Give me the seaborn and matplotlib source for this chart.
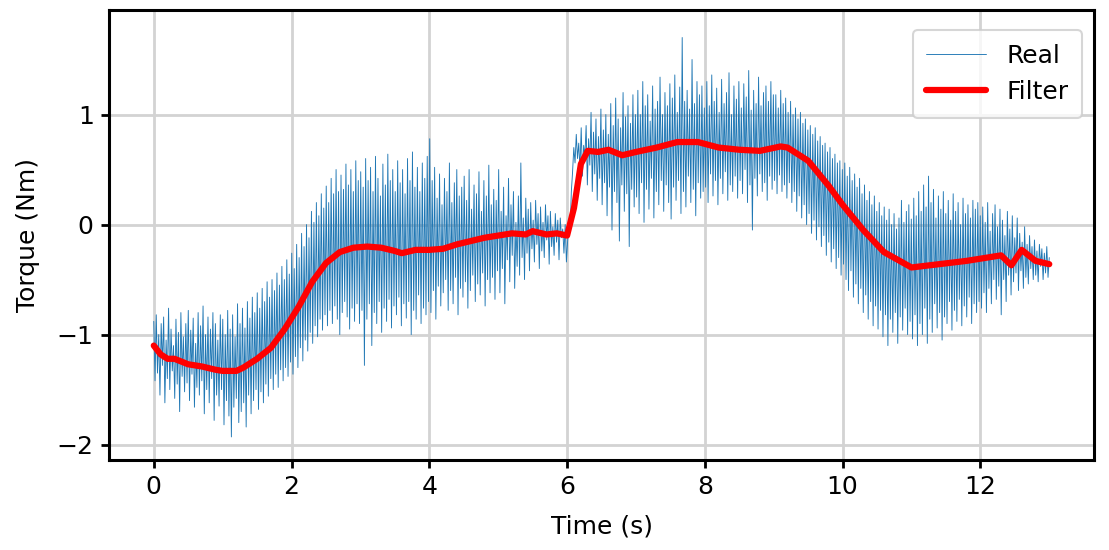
import numpy as np
import pandas as pd
import matplotlib
matplotlib.use("Agg")
import matplotlib.pyplot as plt
import seaborn as sns

# ---- data ----
real_torque = [
    # 0-1 s
    -0.88, -1.42, -0.82, -1.35, -1.0, -1.55, -0.9, -1.28, -0.84, -1.62, -1.05, -1.4, -0.76, -1.5,
    -0.95, -1.33, -1.1, -1.58, -0.86, -1.45, -0.98, -1.7, -0.8, -1.38, -1.02, -1.52, -0.9, -1.44,
    -0.78, -1.6, -0.96, -1.36, -0.85, -1.66, -1.08, -1.48, -0.8, -1.55, -0.92, -1.42, -0.74, -1.72,
    -1.0, -1.5, -0.84, -1.62, -0.95, -1.4, -0.8, -1.78, -0.9, -1.55, -1.05, -1.65, -0.82, -1.5,
    # 1-2 s
    -0.86, -1.82, -1.0, -1.6, -0.78, -1.74, -0.95, -1.93, -0.82, -1.66, -1.02, -1.58, -0.72, -1.8,
    -0.9, -1.7, -0.76, -1.62, -0.94, -1.84, -0.7, -1.55, -0.85, -1.72, -0.66, -1.6, -0.8, -1.5,
    -0.62, -1.68, -0.76, -1.52, -0.58, -1.62, -0.7, -1.45, -0.52, -1.56, -0.66, -1.4, -0.5, -1.5,
    -0.6, -1.36, -0.44, -1.48, -0.55, -1.32, -0.38, -1.42, -0.5, -1.3, -0.32, -1.38, -0.45, -1.25,
    # 2-3 s
    -0.26, -1.36, -0.4, -1.2, -0.18, -1.3, -0.3, -1.12, -0.08, -1.24, -0.2, -1.05, 0.0, -1.15,
    -0.12, -0.98, 0.12, -1.08, 0.02, -0.92, 0.2, -1.02, 0.08, -0.86, 0.28, -0.96, 0.15, -0.82,
    0.35, -0.92, 0.2, -0.78, 0.42, -0.9, 0.28, -0.74, 0.5, -0.86, 0.3, -1.0, 0.45, -0.8,
    0.32, -0.7, 0.55, -0.84, 0.36, -0.95, 0.5, -0.76, 0.3, -0.88, 0.58, -0.72, 0.4, -0.9,
    # 3-4 s
    0.48, -0.78, 0.34, -1.28, 0.6, -0.86, 0.4, -0.72, 0.52, -1.1, 0.3, -0.8, 0.62, -0.9,
    0.42, -0.7, 0.26, -0.98, 0.55, -0.76, 0.36, -0.88, 0.64, -0.68, 0.4, -0.94, 0.5, -0.74,
    0.3, -0.82, 0.58, -0.66, 0.38, -0.92, 0.5, -0.72, 0.28, -0.85, 0.6, -0.7, 0.4, -1.0,
    0.66, -0.78, 0.34, -0.86, 0.52, -0.64, 0.3, -0.9, 0.56, -0.76, 0.42, -0.82, 0.62, -0.7,
    # 4-5 s
    0.78, -0.8, 0.4, -0.6, 0.52, -0.86, 0.24, -0.56, 0.46, -0.74, 0.18, -0.62, 0.42, -0.5,
    0.3, -0.78, 0.56, -0.6, 0.2, -0.72, 0.38, -0.48, 0.5, -0.82, 0.26, -0.58, 0.34, -0.66,
    0.44, -0.52, 0.22, -0.76, 0.5, -0.6, 0.14, -0.46, 0.36, -0.7, 0.28, -0.54, 0.48, -0.64,
    0.12, -0.44, 0.4, -0.74, 0.26, -0.5, 0.54, -0.62, 0.18, -0.48, 0.32, -0.68, 0.22, -0.42,
    # 5-6 s
    0.5, -0.62, 0.12, -0.4, 0.34, -0.72, 0.08, -0.32, 0.42, -0.52, 0.18, -0.28, 0.3, -0.58,
    0.02, -0.38, 0.26, -0.46, 0.56, -0.3, 0.06, -0.5, 0.24, -0.26, 0.14, -0.42, 0.2, -0.22,
    0.04, -0.34, 0.22, -0.18, 0.1, -0.4, 0.16, -0.24, 0.02, -0.3, 0.18, -0.14, 0.08, -0.36,
    0.12, -0.2, -0.02, -0.28, 0.1, -0.16, 0.04, -0.32, 0.06, -0.12, -0.04, -0.26, 0.0, -0.34,
    # 6-7 s
    -0.14, 0.05, -0.05, 0.3, 0.48, 0.7, 0.56, 0.82, 0.6, 0.74, 0.5, 0.88, 0.44, 0.72,
    0.62, 0.9, 0.36, 0.78, 0.54, 1.02, 0.3, 0.84, 0.46, 0.96, 0.22, 0.8, 0.42, 1.05,
    0.18, 0.86, 0.38, 1.0, 0.08, 0.82, 0.34, 1.1, -0.05, 0.9, 0.3, 1.15, 0.2, 0.96,
    -0.15, 0.88, 0.36, 1.2, 0.12, 0.98, 0.28, 1.08, -0.2, 0.92, 0.32, 1.18, 0.16, 1.0,
    # 7-8 s
    0.25, 1.22, 0.1, 1.0, 0.38, 1.3, 0.02, 1.08, 0.32, 1.18, 0.14, 0.94, 0.42, 1.26,
    0.06, 1.05, 0.3, 1.12, 0.18, 1.34, 0.4, 1.0, 0.12, 1.2, 0.36, 1.08, 0.2, 1.28,
    0.05, 1.15, 0.34, 1.36, 0.22, 1.02, 0.4, 1.25, 0.1, 1.7, 0.3, 1.12, 0.16, 1.22,
    0.44, 1.05, 0.2, 1.5, 0.32, 1.1, 0.08, 1.3, 0.38, 1.18, 0.24, 1.26, 0.3, 1.06,
    # 8-9 s
    0.34, 1.3, 0.2, 1.08, 0.46, 1.36, 0.26, 1.12, 0.4, 1.24, 0.18, 1.02, 0.42, 1.32,
    0.28, 1.1, 0.48, 1.2, 0.22, 1.38, 0.36, 1.0, 0.3, 1.26, 0.44, 1.14, 0.24, 1.3,
    0.4, 1.06, 0.28, 1.28, 0.5, 1.16, 0.2, 1.4, 0.36, 1.04, -0.05, 1.22, 0.42, 1.1,
    0.26, 1.34, 0.46, 1.08, 0.3, 1.2, 0.38, 1.26, 0.22, 1.12, 0.44, 1.3, 0.32, 1.18,
    # 9-10 s
    0.4, 1.18, 0.28, 1.06, 0.45, 1.22, 0.3, 1.1, 0.36, 1.15, 0.24, 1.02, 0.38, 1.12,
    0.2, 1.0, 0.3, 1.06, 0.12, 0.96, 0.26, 1.02, 0.06, 0.92, 0.18, 0.96, 0.0, 0.86,
    0.1, 0.9, -0.08, 0.82, 0.04, 0.88, -0.14, 0.76, -0.02, 0.8, -0.2, 0.72, -0.1, 0.74,
    -0.28, 0.66, -0.16, 0.7, -0.34, 0.6, -0.22, 0.64, -0.4, 0.56, -0.3, 0.58, -0.46, 0.5,
    # 10-11 s
    -0.36, 0.56, -0.5, 0.44, -0.6, 0.52, -0.42, 0.4, -0.66, 0.46, -0.54, 0.34, -0.72, 0.42,
    -0.58, 0.28, -0.8, 0.36, -0.64, 0.22, -0.86, 0.3, -0.7, 0.18, -0.92, 0.26, -0.74, 0.12,
    -0.95, 0.2, -0.78, 0.08, -1.02, 0.16, -0.82, 0.04, -1.1, 0.14, -0.86, 0.0, -0.98, 0.1,
    -0.8, -0.04, -1.08, 0.06, -0.84, 0.22, -0.96, 0.02, -0.76, 0.12, -1.0, 0.18, -0.88, 0.05,
    # 11-12 s
    -1.04, 0.24, -0.82, 0.08, -1.1, 0.3, -0.9, 0.12, -1.0, 0.36, -0.76, 0.16, -1.08, 0.44,
    -0.86, 0.2, -0.98, 0.32, -0.72, 0.06, -0.94, 0.26, -0.8, 0.14, -1.05, 0.3, -0.84, 0.1,
    -0.9, 0.22, -0.7, 0.04, -0.96, 0.28, -0.78, 0.12, -0.88, 0.2, -0.68, 0.0, -0.92, 0.24,
    -0.74, 0.1, -0.84, 0.18, -0.66, 0.06, -0.9, 0.22, -0.72, 0.14, -0.8, 0.2, -0.7, 0.08,
    # 12-13 s
    -0.76, 0.16, -0.62, 0.02, -0.8, 0.2, -0.58, -0.06, -0.72, 0.1, -0.5, 0.18, -0.68, -0.02,
    -0.56, 0.14, -0.82, 0.04, -0.5, -0.1, -0.7, 0.12, -0.46, -0.04, -0.64, 0.08, -0.52, -0.12,
    -0.44, 0.06, -0.6, -0.08, -0.42, -0.16, -0.58, -0.02, -0.48, -0.18, -0.54, -0.1, -0.4, -0.2,
    -0.5, -0.14, -0.46, -0.24, -0.52, -0.18, -0.38, -0.22, -0.5, -0.26, -0.44, -0.2, -0.48, -0.3,
]
real_time = np.linspace(0, 13, len(real_torque))

filter_time = [0.0, 0.1, 0.2, 0.3, 0.5, 0.7, 0.9, 1.0, 1.2, 1.3, 1.5, 1.7, 1.9, 2.0, 2.1,
               2.3, 2.5, 2.7, 2.9, 3.1, 3.3, 3.5, 3.6, 3.8, 4.0, 4.2, 4.4, 4.6, 4.8, 5.0,
               5.2, 5.4, 5.5, 5.7, 5.85, 6.0, 6.1, 6.2, 6.3, 6.45, 6.6, 6.8, 7.0, 7.3,
               7.6, 7.9, 8.2, 8.5, 8.8, 9.1, 9.2, 9.5, 9.8, 10.0, 10.3, 10.6, 11.0, 11.4,
               11.8, 12.0, 12.3, 12.45, 12.6, 12.8, 13.0]
filter_torque = [-1.10, -1.18, -1.22, -1.22, -1.27, -1.29, -1.32, -1.33, -1.33, -1.30, -1.22,
                 -1.12, -0.95, -0.85, -0.75, -0.52, -0.35, -0.25, -0.21, -0.20, -0.21, -0.24,
                 -0.26, -0.23, -0.23, -0.22, -0.18, -0.15, -0.12, -0.10, -0.08, -0.09, -0.06,
                 -0.09, -0.08, -0.10, 0.15, 0.55, 0.67, 0.66, 0.68, 0.63, 0.66, 0.70, 0.75,
                 0.75, 0.70, 0.68, 0.67, 0.71, 0.70, 0.58, 0.35, 0.18, -0.05, -0.25, -0.39,
                 -0.36, -0.33, -0.31, -0.28, -0.37, -0.23, -0.33, -0.36]

x_ticks = [0, 2, 4, 6, 8, 10, 12]
y_ticks = [-2, -1, 0, 1]

# ---- plot ----
sns.set_style("whitegrid")
plt.rcParams["font.family"] = ["DejaVu Sans"]
plt.rcParams["text.color"] = "black"
plt.rcParams["axes.labelcolor"] = "black"
plt.rcParams["xtick.color"] = "black"
plt.rcParams["ytick.color"] = "black"
FS = 18

fig = plt.figure(figsize=(11.09, 5.5), dpi=100)
ax = fig.add_axes([0.0983, 0.1636, 0.8882, 0.8182])

real_df = pd.DataFrame({"t": real_time, "v": real_torque})
filt_df = pd.DataFrame({"t": filter_time, "v": filter_torque})

sns.lineplot(data=real_df, x="t", y="v", ax=ax, color="#1f77b4", linewidth=0.65,
             label="Real", sort=False, estimator=None)
sns.lineplot(data=filt_df, x="t", y="v", ax=ax, color="red", linewidth=4.5,
             label="Filter", sort=False, estimator=None)

ax.set_xlim(-0.65, 13.65)
ax.set_ylim(-2.14, 1.95)
ax.set_xticks(x_ticks)
ax.set_yticks(y_ticks)
ax.set_yticklabels(["\u22122", "\u22121", "0", "1"])
ax.set_xlabel("Time (s)", fontsize=FS, labelpad=11)
ax.set_ylabel("Torque (Nm)", fontsize=FS, labelpad=12)
ax.tick_params(axis="both", labelsize=FS, length=6, width=2.0, color="black",
               labelcolor="black", direction="out", bottom=True, left=True, pad=5)
ax.grid(True, color="lightgray", linewidth=2.0)
for s in ax.spines.values():
    s.set_color("black")
    s.set_linewidth(2.2)

leg = ax.legend(loc="upper right", bbox_to_anchor=(0.988, 0.9556), borderaxespad=0,
                fontsize=FS, frameon=True, fancybox=True, handlelength=2.4,
                borderpad=0.55, labelspacing=0.5)
leg.get_frame().set_edgecolor("#cccccc")
leg.get_frame().set_linewidth(1.5)

fig.savefig("out.png", dpi=100)
